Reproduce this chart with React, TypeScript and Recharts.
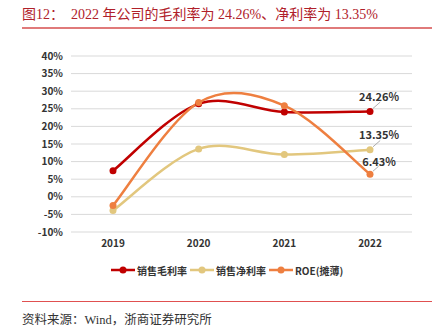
import { LineChart, Line, XAxis, YAxis, CartesianGrid, LabelList } from 'recharts';

const years = ['2019', '2020', '2021', '2022'];
const grossMargin = [7.4, 26.4, 24.1, 24.26];
const netMargin = [-3.9, 13.6, 12.0, 13.35];
const roe = [-2.5, 26.8, 25.9, 6.43];
const yTicks = [-10, -5, 0, 5, 10, 15, 20, 25, 30, 35, 40];

const RED = '#C00000';
const YELLOW = '#E2C77E';
const ORANGE = '#EE7F40';

const data = years.map((year, i) => ({
  year,
  gross: grossMargin[i],
  net: netMargin[i],
  roe: roe[i],
}));

const series = [
  { key: 'gross', name: '销售毛利率', color: RED, labelDy: -15 },
  { key: 'net', name: '销售净利率', color: YELLOW, labelDy: -16 },
  { key: 'roe', name: 'ROE(摊薄)', color: ORANGE, labelDy: -13 },
];

const sans = '"Noto Sans CJK SC", "Noto Sans", sans-serif';
const serif = '"Liberation Serif", "DejaVu Serif", "Noto Sans CJK SC", serif';

// excel-style smoothing (catmull-rom through the points)
const smoothCurve = (context: any) => {
  let pts: number[][] = [];
  return {
    areaStart() {},
    areaEnd() {},
    lineStart() {
      pts = [];
    },
    point(x: number, y: number) {
      pts.push([+x, +y]);
    },
    lineEnd() {
      if (!pts.length) return;
      context.moveTo(pts[0][0], pts[0][1]);
      for (let i = 0; i < pts.length - 1; i++) {
        const p0 = pts[i - 1] || pts[i];
        const p1 = pts[i];
        const p2 = pts[i + 1];
        const p3 = pts[i + 2] || p2;
        context.bezierCurveTo(
          p1[0] + (p2[0] - p0[0]) / 6,
          p1[1] + (p2[1] - p0[1]) / 6,
          p2[0] - (p3[0] - p1[0]) / 6,
          p2[1] - (p3[1] - p1[1]) / 6,
          p2[0],
          p2[1]
        );
      }
    },
  };
};

const makeLastLabel = (dy: number) => (props: any) => {
  const { x, y, value, index } = props;
  if (index !== years.length - 1) return null;
  const lead = Math.min(9, -dy - 6);
  return (
    <g>
      <line x1={x + 3} y1={y - 3} x2={x + 3 + lead * 0.8} y2={y - 3 - lead * 0.7} stroke="#999" strokeWidth={0.8} />
      <text
        x={x + 9}
        y={y + dy}
        textAnchor="middle"
        dominantBaseline="central"
        fontSize={11}
        fontWeight={700}
        fontFamily={sans}
        fill="#333"
      >
        {value.toFixed(2)}%
      </text>
    </g>
  );
};

export default function App() {
  return (
    <div style={{ position: 'absolute', left: 0, top: 0, width: 443, height: 332, background: '#fff' }}>
      <div
        style={{
          position: 'absolute',
          left: 22,
          top: 3,
          fontFamily: serif,
          fontSize: 14,
          color: '#B0202A',
          whiteSpace: 'pre',
        }}
      >
        图12：  2022 年公司的毛利率为 24.26%、净利率为 13.35%
      </div>
      <div style={{ position: 'absolute', left: 22, top: 27, width: 410, height: 1.5, background: '#E07A7A' }} />

      <div style={{ position: 'absolute', left: 0, top: 0 }}>
        <LineChart width={443} height={290} data={data} margin={{ top: 56, right: 31, bottom: 28, left: 21 }}>
          <CartesianGrid vertical={false} stroke="#D9D9D9" />
          <XAxis
            dataKey="year"
            axisLine={false}
            tickLine={false}
            height={30}
            padding={{ left: 42, right: 42 }}
            tick={{ fontSize: 10, fontWeight: 700, fill: '#333', fontFamily: sans }}
          />
          <YAxis
            domain={[-10, 40]}
            ticks={yTicks}
            interval={0}
            width={50}
            axisLine={false}
            tickLine={false}
            tickFormatter={(v: number) => `${v}%`}
            tick={{ fontSize: 10, fontWeight: 700, fill: '#333', fontFamily: sans }}
          />
          {series.map((s) => (
            <Line
              key={s.key}
              type={smoothCurve as any}
              dataKey={s.key}
              name={s.name}
              stroke={s.color}
              strokeWidth={2.5}
              dot={{ r: 3.5, fill: s.color, stroke: s.color, strokeWidth: 0 }}
              isAnimationActive={false}
            >
              <LabelList dataKey={s.key} content={makeLastLabel(s.labelDy)} />
            </Line>
          ))}
        </LineChart>
      </div>

      <div
        style={{
          position: 'absolute',
          left: 111,
          top: 262,
          display: 'flex',
          alignItems: 'center',
          fontFamily: sans,
          fontSize: 10,
          fontWeight: 700,
          color: '#333',
        }}
      >
        {series.map((s) => (
          <div key={s.key} style={{ display: 'flex', alignItems: 'center', marginRight: 3 }}>
            <svg width={24} height={16}>
              <line x1={0} y1={8} x2={24} y2={8} stroke={s.color} strokeWidth={2.5} />
              <circle cx={12} cy={8} r={3.5} fill={s.color} />
            </svg>
            <span style={{ marginLeft: 2 }}>{s.name}</span>
          </div>
        ))}
      </div>

      <div style={{ position: 'absolute', left: 22, top: 301, width: 410, height: 1, background: '#E05050' }} />
      <div
        style={{
          position: 'absolute',
          left: 22,
          top: 309,
          fontFamily: serif,
          fontSize: 12.5,
          color: '#333',
        }}
      >
        资料来源：Wind，浙商证券研究所
      </div>
    </div>
  );
}
